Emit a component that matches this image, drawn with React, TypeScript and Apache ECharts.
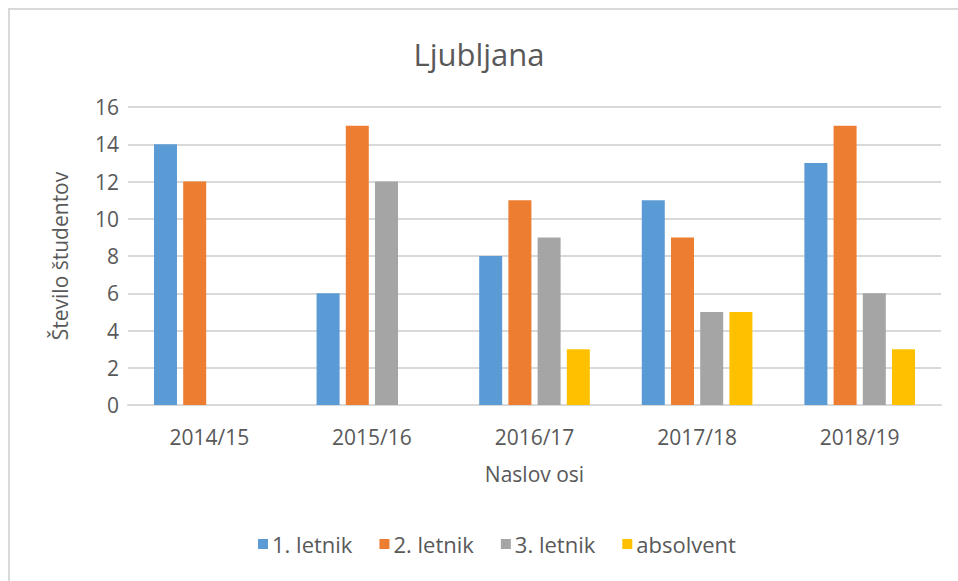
import React, { useEffect, useRef } from "react";
import * as echarts from "echarts";

const categories = ["2014/15", "2015/16", "2016/17", "2017/18", "2018/19"];
const letnik1 = [14, 6, 8, 11, 13];
const letnik2 = [12, 15, 11, 9, 15];
const letnik3 = [null, 12, 9, 5, 6];
const absolvent = [null, null, 3, 5, 3];
const seriesNames = ["1. letnik", "2. letnik", "3. letnik", "absolvent"];
const colors = ["#5B9BD5", "#ED7D31", "#A5A5A5", "#FFC000"];

const FONT = "'Open Sans', 'Noto Sans', sans-serif";
const TXT = "#595959";

export default function App() {
  const ref = useRef<HTMLDivElement>(null);
  useEffect(() => {
    document.body.style.margin = "0";
    const chart = echarts.init(ref.current!, null, { renderer: "svg" });
    const data = [letnik1, letnik2, letnik3, absolvent];
    chart.setOption({
      animation: false,
      backgroundColor: "#ffffff",
      textStyle: { fontFamily: FONT },
      title: {
        text: "Ljubljana",
        left: "center",
        top: 33,
        textStyle: { fontFamily: FONT, fontSize: 31, fontWeight: "normal", color: TXT },
      },
      graphic: [
        {
          type: "rect",
          shape: { x: 9, y: 9, width: 1200, height: 800 },
          style: { fill: "none", stroke: "#d9d9d9", lineWidth: 2 },
          silent: true,
        },
      ],
      grid: { left: 128, right: 17, top: 107, bottom: 176 },
      legend: {
        bottom: 21,
        left: 253,
        itemWidth: 10,
        itemHeight: 10,
        itemGap: 27,
        icon: "rect",
        textStyle: { fontFamily: FONT, fontSize: 22, color: TXT, padding: [0, 0, 0, -1] },
        data: seriesNames,
      },
      xAxis: {
        type: "category",
        data: categories,
        name: "Naslov osi",
        nameLocation: "middle",
        nameGap: 58,
        nameTextStyle: { fontFamily: FONT, fontSize: 21, color: TXT },
        axisLine: { lineStyle: { color: "#d9d9d9", width: 2 } },
        axisTick: { show: false },
        axisLabel: { fontFamily: FONT, fontSize: 21, color: TXT, margin: 21 },
      },
      yAxis: {
        type: "value",
        min: 0,
        max: 16,
        interval: 2,
        name: "Število študentov",
        nameLocation: "middle",
        nameGap: 58,
        nameTextStyle: { fontFamily: FONT, fontSize: 21, color: TXT },
        axisLine: { show: false },
        axisTick: { show: false },
        axisLabel: { fontFamily: FONT, fontSize: 21, color: TXT, margin: 9 },
        splitLine: { lineStyle: { color: "#d9d9d9", width: 2 } },
      },
      series: seriesNames.map((name, i) => ({
        name,
        type: "bar",
        data: data[i],
        barWidth: 23,
        barGap: "27%",
        itemStyle: { color: colors[i] },
      })),
    });
    return () => chart.dispose();
  }, []);
  return <div ref={ref} style={{ width: 958, height: 581 }} />;
}
